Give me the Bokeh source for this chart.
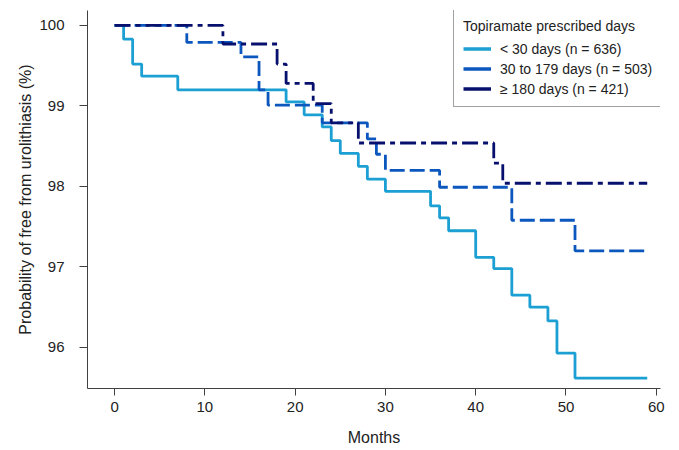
from bokeh.plotting import figure
from bokeh.models import Range1d, Legend, LegendItem, FixedTicker
from bokeh.embed import file_html
from bokeh.resources import INLINE

# ---- data (months, survival %) ----
lt30_months = [0, 1, 2, 3, 7, 19, 21, 23, 24, 25, 27, 28, 30, 35, 36, 37, 40, 42, 44, 46, 48, 49, 51, 59]
lt30_surv = [100, 99.83, 99.52, 99.37, 99.20, 99.05, 98.89, 98.74, 98.57, 98.41, 98.25, 98.09, 97.94,
             97.76, 97.61, 97.45, 97.12, 96.98, 96.65, 96.50, 96.33, 95.93, 95.62, 95.62]

mid_months = [0, 8, 14, 16, 17, 23, 28, 29, 30, 36, 44, 51, 59]
mid_surv = [100, 99.79, 99.61, 99.20, 99.01, 98.79, 98.59, 98.40, 98.20, 97.99, 97.58, 97.20, 97.20]

ge180_months = [0, 12, 18, 19, 22, 24, 27, 42, 43, 59]
ge180_surv = [100, 99.77, 99.52, 99.28, 99.03, 98.79, 98.54, 98.29, 98.04, 98.04]

series_labels = ["< 30 days (n = 636)", "30 to 179 days (n = 503)", "\u2265 180 days (n = 421)"]
legend_title = "Topiramate prescribed days"
x_ticks = [0, 10, 20, 30, 40, 50, 60]
y_ticks = [96, 97, 98, 99, 100]

colors = ["#1C9FD2", "#0B57BE", "#08106E"]
dashes = ["solid", "15 5", "16 5 5 5"]

FONT = "Liberation Sans"

p = figure(width=671, height=448,
           x_range=Range1d(-3.0, 60.47), y_range=Range1d(95.49, 100.186),
           output_backend="svg", toolbar_location=None,
           min_border_left=87, min_border_right=11, min_border_top=10, min_border_bottom=60)
p.outline_line_color = None
p.xgrid.visible = False
p.ygrid.visible = False
p.background_fill_color = "white"

data = [(lt30_months, lt30_surv), (mid_months, mid_surv), (ge180_months, ge180_surv)]
for (xs, ys), c, d in zip(data, colors, dashes):
    p.step(xs, ys, mode="after", line_color=c, line_width=2.8, line_dash=d)

# legend proxies (solid lines); a single point draws nothing on the plot
items = []
for (xs, ys), lab, c in zip(data, series_labels, colors):
    r = p.line(xs[:1], ys[:1], line_color=c, line_width=3.5)
    items.append(LegendItem(label=lab, renderers=[r]))

legend = Legend(items=items, location=(366, 281), title=legend_title,
                title_text_font=FONT, title_text_font_size="14px", title_text_font_style="normal",
                title_text_color="#222222", title_standoff=6, title_text_baseline="top",
                title_text_align="center",
                label_text_font=FONT, label_text_font_size="14px", label_text_color="#222222",
                border_line_color="#444444", border_line_width=1, background_fill_color="white",
                background_fill_alpha=1.0, padding=9, spacing=3, label_height=17, glyph_height=17,
                glyph_width=28, label_standoff=9, margin=0)
p.add_layout(legend, "center")

for ax in (p.xaxis[0], p.yaxis[0]):
    ax.axis_line_color = "#404040"
    ax.axis_line_width = 1
    ax.major_tick_line_color = "#404040"
    ax.major_tick_in = 0
    ax.major_tick_out = 7
    ax.minor_tick_line_color = None
    ax.major_label_text_font = FONT
    ax.major_label_text_font_size = "15px"
    ax.major_label_text_color = "#222222"
    ax.axis_label_text_font = FONT
    ax.axis_label_text_font_size = "16px"
    ax.axis_label_text_font_style = "normal"
    ax.axis_label_text_color = "#222222"

p.xaxis.ticker = FixedTicker(ticks=x_ticks)
p.yaxis.ticker = FixedTicker(ticks=y_ticks)
p.xaxis.axis_label = "Months"
p.yaxis.axis_label = "Probability of free from urolithiasis (%)"
p.xaxis.major_label_standoff = 6
p.xaxis.axis_label_standoff = 14
p.yaxis.major_tick_out = 8
p.yaxis.major_label_standoff = 15
p.yaxis.axis_label_standoff = 2

open("out.html", "w").write(file_html(p, INLINE))
